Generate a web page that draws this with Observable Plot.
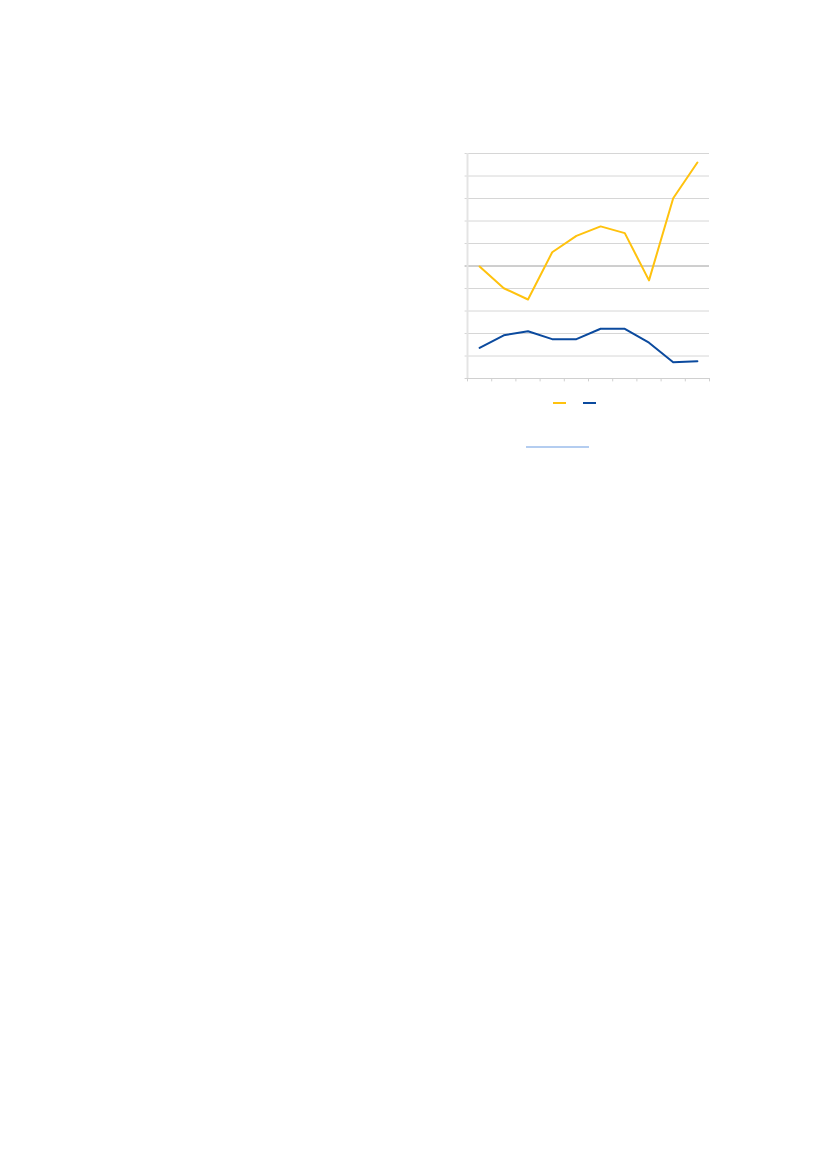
<!DOCTYPE html>
<html>
<head>
<meta charset="utf-8">
<script src="https://cdn.jsdelivr.net/npm/d3@7"></script>
<script src="https://cdn.jsdelivr.net/npm/@observablehq/plot@0.6"></script>
<style>
  html, body { margin: 0; padding: 0; background: #fff; width: 827px; height: 1169px; overflow: hidden; }
  #wrap { position: relative; width: 827px; height: 1169px; }
  #chart { position: absolute; left: 0; top: 0; }
  .sw { position: absolute; height: 2px; width: 13px; }
  #underline { position: absolute; left: 526px; top: 446px; width: 63px; height: 2px; background: #b4cdf0; }
</style>
</head>
<body>
<div id="wrap">
  <div id="chart"></div>
  <div class="sw" style="left:553px; top:402px; background:#ffc20e;"></div>
  <div class="sw" style="left:583px; top:402px; background:#0b4a9e;"></div>
  <div id="underline"></div>
</div>
<script>
// categories (10 periods, labels not shown in the reference)
const categories = ["1", "2", "3", "4", "5", "6", "7", "8", "9", "10"];
const seriesA = [4.98, 4.01, 3.51, 5.61, 6.34, 6.76, 6.46, 4.36, 8.01, 9.6];
const seriesB = [1.36, 1.92, 2.10, 1.75, 1.75, 2.21, 2.21, 1.59, 0.72, 0.77];
const yTicks = [1, 2, 3, 4, 6, 7, 8, 9, 10];
const yMid = [5];
const xTicks = [0, 1, 2, 3, 4, 5, 6, 7, 8, 9, 10];

const rowsA = categories.map((c, i) => ({cat: c, pos: i + 0.5, v: seriesA[i]}));
const rowsB = categories.map((c, i) => ({cat: c, pos: i + 0.5, v: seriesB[i]}));

const chart = Plot.plot({
  width: 827,
  height: 470,
  marginLeft: 467,
  marginRight: 118,
  marginTop: 153,
  marginBottom: 92,
  x: {type: "linear", domain: [0, 10], axis: null},
  y: {type: "linear", domain: [0, 10], axis: null},
  marks: [
    Plot.ruleY(yTicks, {y: d => d, x1: -0.1, x2: 10, stroke: "#d6d6d6", strokeWidth: 1}),
    Plot.ruleY(yMid, {y: d => d, x1: -0.1, x2: 10, stroke: "#9e9e9e", strokeWidth: 1}),
    Plot.ruleX([0], {x: d => d, y1: 0, y2: 10, stroke: "#e4e4e4", strokeWidth: 2}),
    Plot.ruleY([0], {y: d => d, x1: -0.1, x2: 10, stroke: "#d0d0d0", strokeWidth: 1}),
    Plot.ruleX(xTicks, {x: d => d, y1: 0, y2: -0.15, stroke: "#d0d0d0", strokeWidth: 1}),
    Plot.line(rowsA, {x: "pos", y: "v", stroke: "#ffc20e", strokeWidth: 2}),
    Plot.line(rowsB, {x: "pos", y: "v", stroke: "#0b4a9e", strokeWidth: 2})
  ]
});
document.getElementById("chart").appendChild(chart);
</script>
</body>
</html>
